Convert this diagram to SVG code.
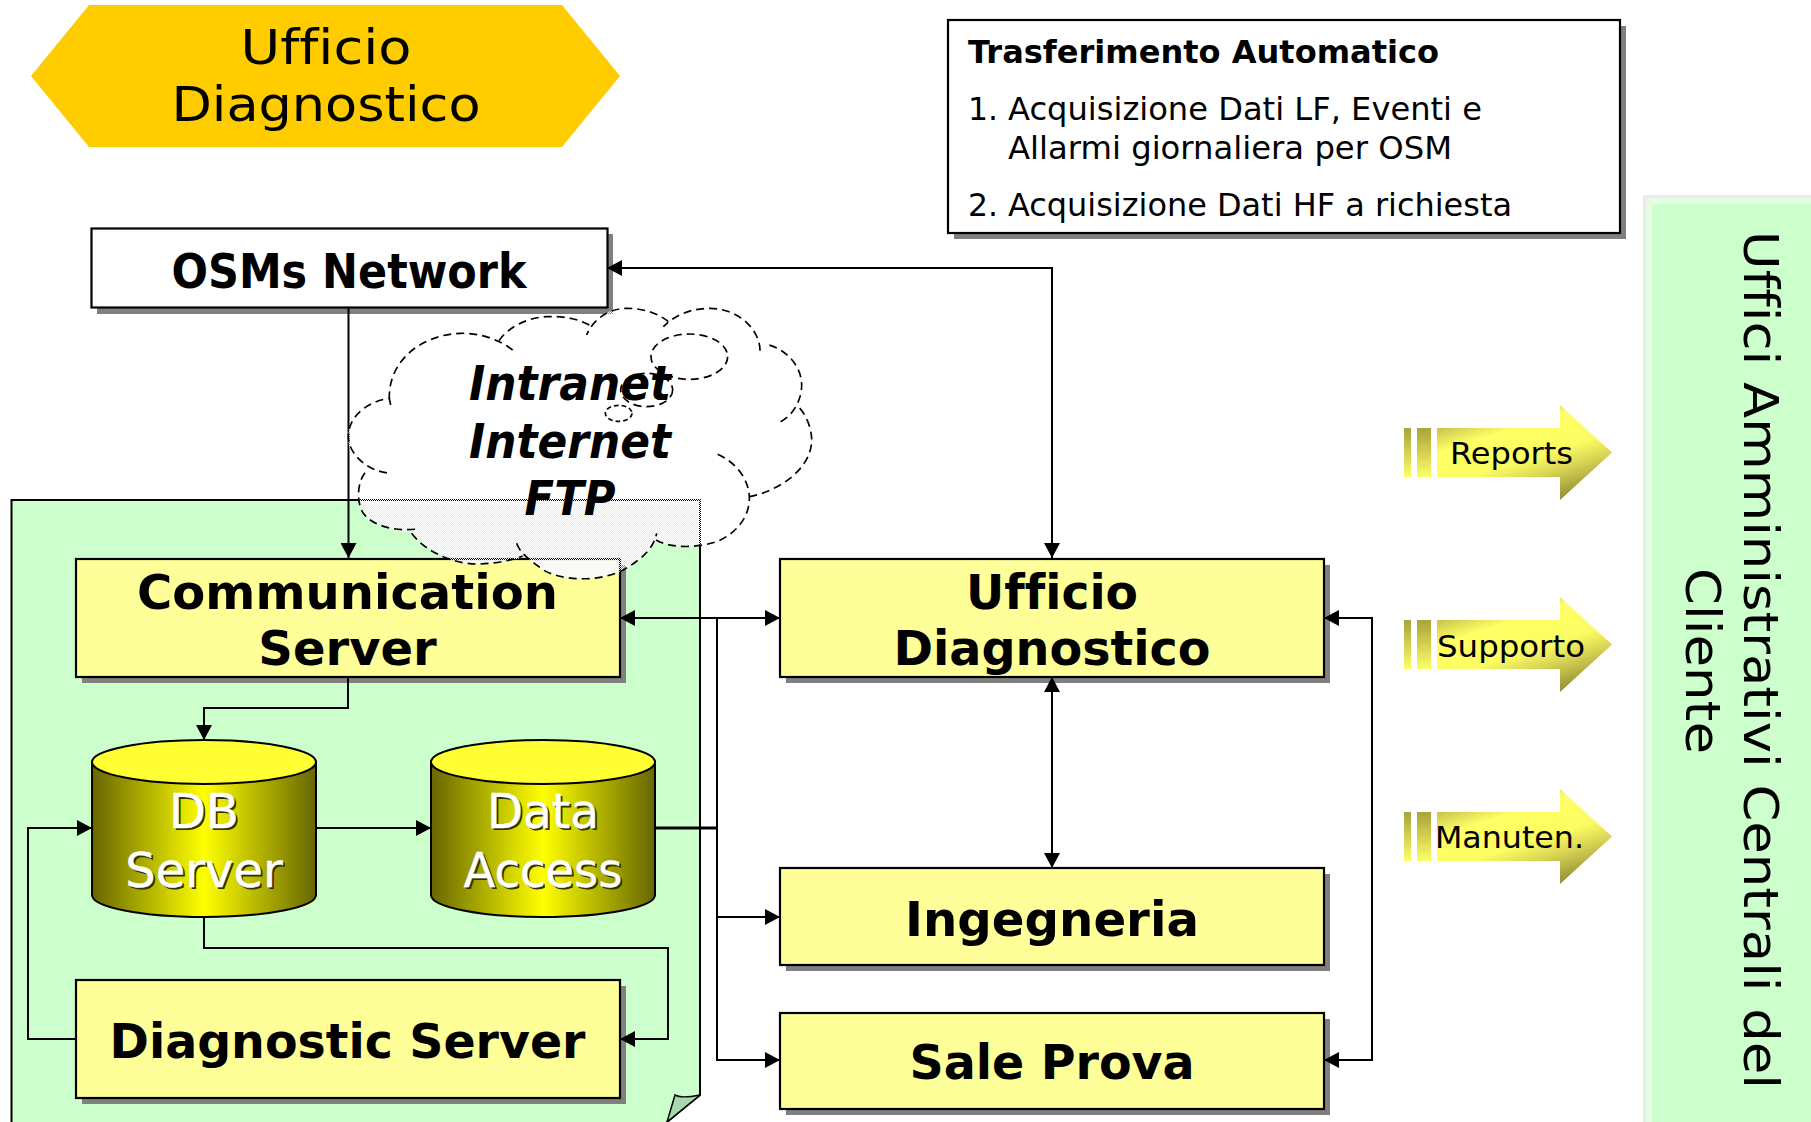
<svg xmlns="http://www.w3.org/2000/svg" xmlns:xlink="http://www.w3.org/1999/xlink" width="1811" height="1122" viewBox="0 0 1811 1122">
<style>
text{font-family:"DejaVu Sans","Verdana",sans-serif;fill:#000;font-variant-ligatures:none}
.b{font-weight:700;font-size:48px;text-anchor:middle}
.box{fill:#ffff99;stroke:#000;stroke-width:2.200}
.sh{fill:#808080}
.wh{fill:#fff;stroke:#000;stroke-width:2.200}
.c{fill:none;stroke:#000;stroke-width:2}
.cl{fill:none;stroke:#000;stroke-width:5;stroke-dasharray:24 15}
.cyl{fill:url(#cyl);stroke:#000;stroke-width:2}
.top{fill:#ffff33;stroke:#000;stroke-width:2}
.ct{font-size:48px;text-anchor:middle;fill:#fff;stroke:#fff;stroke-width:.4}
.cs{font-size:48px;text-anchor:middle;fill:#333300}
.n{font-size:31.5px}
.a{font-size:31px}
.cloudt{font-weight:700;font-style:italic;font-size:48px;text-anchor:middle}
</style>
<defs>
<linearGradient id="cyl" x1="0" x2="1" y1="0" y2="0"><stop offset="0" stop-color="#666600"/><stop offset=".5" stop-color="#ffff00"/><stop offset="1" stop-color="#666600"/></linearGradient>
<linearGradient id="ag" gradientUnits="userSpaceOnUse" x1="6" y1="19" x2="42" y2="133"><stop offset="0" stop-color="#a8a33c"/><stop offset=".3" stop-color="#ffff66"/><stop offset=".58" stop-color="#fbfb62"/><stop offset=".74" stop-color="#d8d454"/><stop offset="1" stop-color="#8f8a30"/></linearGradient>
<linearGradient id="bg" x1="0" x2="0" y1="0" y2="1"><stop offset="0" stop-color="#a8a33c"/><stop offset="1" stop-color="#ffff66"/></linearGradient>
<pattern id="dither" patternUnits="userSpaceOnUse" width="6" height="6"><rect width="3" height="3" fill="#fff"/><rect x="3" y="3" width="3" height="3" fill="#fff"/></pattern>
<marker id="ah" markerUnits="userSpaceOnUse" markerWidth="16" markerHeight="16" viewBox="0 0 16 16" refX="15" refY="8" orient="auto-start-reverse"><path d="M0 0L15 8L0 16z" fill="#000"/></marker>
<g id="arrowShape"><rect x="0" y="23" width="7" height="49" fill="url(#bg)"/><rect x="13" y="23" width="14" height="49" fill="url(#bg)"/><path d="M33 23H156V0L208 47.5L156 95V72H33z" fill="url(#ag)"/></g>
</defs>
<rect width="1811" height="1122" fill="#fff"/>

<g id="title"><path d="M31 76L89 5H562L620 76L562 147H89z" fill="#ffcc00"/><text x="326" y="64" font-size="48" text-anchor="middle" textLength="171" lengthAdjust="spacingAndGlyphs">Ufficio</text><text x="326" y="121" font-size="48" text-anchor="middle" textLength="309" lengthAdjust="spacingAndGlyphs">Diagnostico</text></g>

<g id="auto-note"><rect class="sh" x="954" y="26" width="672" height="213"/><rect class="wh" x="948" y="20" width="672" height="213"/>
<text x="968" y="63" class="n" font-weight="700" textLength="471" lengthAdjust="spacingAndGlyphs">Trasferimento Automatico</text>
<text x="968" y="120" class="n">1.</text><text x="1008" y="120" class="n" textLength="474" lengthAdjust="spacingAndGlyphs">Acquisizione Dati LF, Eventi e</text>
<text x="1008" y="159" class="n" textLength="444" lengthAdjust="spacingAndGlyphs">Allarmi giornaliera per OSM</text>
<text x="968" y="216" class="n">2.</text><text x="1008" y="216" class="n" textLength="504" lengthAdjust="spacingAndGlyphs">Acquisizione Dati HF a richiesta</text></g>

<g id="side-panel"><rect x="1643" y="195" width="168" height="927" fill="#ebebeb"/><rect x="1646" y="198" width="165" height="924" fill="#e4fde4"/><rect x="1652" y="204" width="159" height="918" fill="#ccffcc"/><path d="M1646 198L1652 204" stroke="#ebebeb" stroke-width="1"/>
<text transform="translate(1744,231) rotate(90)" font-size="48" textLength="858" lengthAdjust="spacingAndGlyphs">Uffici Amministrativi Centrali del</text>
<text transform="translate(1686,568) rotate(90)" font-size="48" textLength="186" lengthAdjust="spacingAndGlyphs">Cliente</text></g>

<g id="intranet-area"><path d="M11.500 1122V500H700V1095L667 1122" fill="#ccffcc" stroke="#000" stroke-width="2"/><path d="M700 1095C690 1097 680 1098 675 1095L667 1122z" fill="#a8d8b0" stroke="#000" stroke-width="1.500"/></g>

<g id="osm-network"><rect class="sh" x="97" y="234" width="516" height="80"/><rect class="wh" x="91.500" y="228.500" width="516" height="79"/><text class="b" x="349" y="288" textLength="355" lengthAdjust="spacingAndGlyphs">OSMs Network</text></g>
<g id="comm-server"><rect class="sh" x="82" y="565" width="544" height="118"/><rect class="box" x="76" y="559" width="544" height="118"/></g>
<g id="ufficio"><rect class="sh" x="786" y="565" width="544" height="118"/><rect class="box" x="780" y="559" width="544" height="118"/><text class="b" x="1052" y="609" textLength="172" lengthAdjust="spacingAndGlyphs">Ufficio</text><text class="b" x="1052" y="665" textLength="317" lengthAdjust="spacingAndGlyphs">Diagnostico</text></g>
<g id="ingegneria"><rect class="sh" x="786" y="874" width="544" height="97"/><rect class="box" x="780" y="868" width="544" height="97"/><text class="b" x="1052" y="936" textLength="294" lengthAdjust="spacingAndGlyphs">Ingegneria</text></g>
<g id="sale-prova"><rect class="sh" x="786" y="1019" width="544" height="96"/><rect class="box" x="780" y="1013" width="544" height="96"/><text class="b" x="1052" y="1079" textLength="285" lengthAdjust="spacingAndGlyphs">Sale Prova</text></g>
<g id="diagnostic-server"><rect class="sh" x="82" y="986" width="544" height="118"/><rect class="box" x="76" y="980" width="544" height="118"/><text class="b" x="347.500" y="1058" textLength="476" lengthAdjust="spacingAndGlyphs">Diagnostic Server</text></g>

<g id="db-server"><path class="cyl" d="M92 762V895C92 907 141 917 204 917S316 907 316 895V762z"/><ellipse class="top" cx="204" cy="762" rx="112" ry="22"/>
<text class="cs" x="206" y="830">DB</text><text class="cs" x="206" y="889">Server</text><text class="ct" x="204" y="828">DB</text><text class="ct" x="204" y="887">Server</text></g>
<g id="data-access"><path class="cyl" d="M431 762V895C431 907 480 917 543 917S655 907 655 895V762z"/><ellipse class="top" cx="543" cy="762" rx="112" ry="22"/>
<text class="cs" x="545" y="830" textLength="112" lengthAdjust="spacingAndGlyphs">Data</text><text class="cs" x="545" y="889" textLength="159" lengthAdjust="spacingAndGlyphs">Access</text><text class="ct" x="543" y="828" textLength="112" lengthAdjust="spacingAndGlyphs">Data</text><text class="ct" x="543" y="887" textLength="159" lengthAdjust="spacingAndGlyphs">Access</text></g>

<g id="connectors">
<path class="c" d="M348.500 308V558" marker-end="url(#ah)"/>
<path class="c" d="M607 268H1052V558" marker-start="url(#ah)" marker-end="url(#ah)"/>
<path class="c" d="M620 618H780" marker-start="url(#ah)" marker-end="url(#ah)"/>
<path class="c" d="M717 618V1060H780" marker-end="url(#ah)"/>
<path class="c" d="M655 828H717" style="stroke-width:3"/>
<path class="c" d="M717 917H780" marker-end="url(#ah)"/>
<path class="c" d="M348 677V708H204V740" marker-end="url(#ah)"/>
<path class="c" d="M316 828H431" marker-end="url(#ah)"/>
<path class="c" d="M204 917V948H668V1039H620" marker-end="url(#ah)"/>
<path class="c" d="M76 1039H28V828H92" marker-end="url(#ah)"/>
<path class="c" d="M1052 677V868" marker-start="url(#ah)" marker-end="url(#ah)"/>
<path class="c" d="M1324 618H1372V1060H1324" marker-start="url(#ah)" marker-end="url(#ah)"/>
</g>

<g id="cloud" transform="translate(330,290) scale(.33333)">
<path fill="url(#dither)" d="M178 325C110 335 55 380 55 440C55 490 70 520 105 548C80 580 80 640 100 670C130 710 200 725 245 725C290 790 380 825 450 822C500 820 550 810 590 800C600 810 610 825 640 840C690 870 800 880 880 840C930 810 970 780 980 750C1020 775 1100 775 1160 755C1220 730 1260 680 1258 620C1340 605 1445 540 1445 450C1445 410 1425 370 1405 350C1415 330 1415 310 1415 285C1415 230 1370 175 1295 162C1280 115 1220 55 1140 55C1090 55 1040 70 1010 95C985 70 940 55 890 55C840 55 790 85 775 105C740 85 700 78 650 80C590 82 530 115 505 155C450 128 420 130 390 130C270 135 175 215 178 325z"/>
<path class="cl" d="M182 345L178 325C110 335 55 380 55 440C55 490 110 545 183 550"/>
<path class="cl" d="M105 548C80 580 80 640 100 670C130 710 200 725 262 717"/>
<path class="cl" d="M245 730C290 790 380 825 450 822C500 820 550 810 578 798"/>
<path class="cl" d="M560 760C570 790 600 810 640 840C690 870 800 880 880 840C930 810 970 780 980 730"/>
<path class="cl" d="M978 750C1020 775 1100 775 1160 755C1220 730 1260 680 1258 620C1255 560 1210 510 1152 488"/>
<path class="cl" d="M1258 620C1340 605 1445 540 1445 450C1445 410 1425 370 1405 350"/>
<path class="cl" d="M1352 395C1390 375 1415 330 1415 285C1415 230 1370 175 1305 162"/>
<path class="cl" d="M1290 182C1290 115 1220 55 1140 55C1090 55 1040 70 1000 110"/>
<path class="cl" d="M1015 95C985 70 940 55 890 55C840 55 790 85 770 135"/>
<path class="cl" d="M778 105C740 85 700 78 650 80C590 82 530 115 505 155"/>
<path class="cl" d="M548 180C510 150 450 128 390 130C270 135 175 215 178 325"/>
<ellipse class="cl" cx="1078" cy="200" rx="115" ry="68"/>
<ellipse class="cl" cx="950" cy="300" rx="78" ry="50"/>
<ellipse class="cl" cx="866" cy="370" rx="40" ry="24" style="stroke-dasharray:14 9"/>
</g>
<g id="cloud-label"><text class="cloudt" x="570" y="400" textLength="202" lengthAdjust="spacingAndGlyphs">Intranet</text><text class="cloudt" x="570" y="458" textLength="202" lengthAdjust="spacingAndGlyphs">Internet</text><text class="cloudt" x="570" y="515" textLength="91" lengthAdjust="spacingAndGlyphs">FTP</text></g>
<g id="comm-server-label"><text class="b" x="347.500" y="609" textLength="421" lengthAdjust="spacingAndGlyphs">Communication</text><text class="b" x="347.500" y="665">Server</text></g>

<g id="arrow-reports"><use href="#arrowShape" transform="translate(1404,405)"/><text x="1450" y="464" class="a" textLength="123" lengthAdjust="spacingAndGlyphs">Reports</text></g>
<g id="arrow-supporto"><use href="#arrowShape" transform="translate(1404,597)"/><text x="1437" y="657" class="a" textLength="148" lengthAdjust="spacingAndGlyphs">Supporto</text></g>
<g id="arrow-manuten"><use href="#arrowShape" transform="translate(1404,789)"/><text x="1435" y="848" class="a" textLength="149" lengthAdjust="spacingAndGlyphs">Manuten.</text></g>
</svg>
